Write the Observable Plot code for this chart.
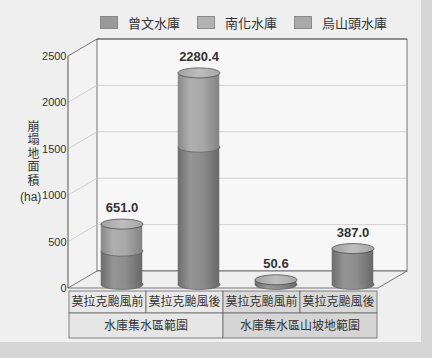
<!DOCTYPE html>
<html>
<head>
<meta charset="utf-8">
<script src="https://cdn.jsdelivr.net/npm/d3@7"></script>
<script src="https://cdn.jsdelivr.net/npm/@observablehq/plot@0.6"></script>
<style>
  html, body { margin: 0; padding: 0; }
  body { width: 432px; height: 358px; background: #d6d6d6; font-family: "Liberation Sans", Arial, "Noto Sans CJK TC", sans-serif; }
  #wrap { position: relative; width: 432px; height: 358px; overflow: hidden; }
  #panel { position: absolute; left: 0; top: 0; width: 421px; height: 342px; background: #efefef; }
  #legend { position: absolute; left: 100px; top: 14px; height: 16px; display: flex; align-items: center; font-family: "Noto Sans CJK TC", sans-serif; font-size: 13px; color: #333; }
  #legend .item { display: flex; align-items: center; margin-right: 17px; }
  #legend .sw { width: 18px; height: 13px; margin-right: 10px; border: 1px solid #8a8a8a; box-sizing: border-box; }
  #chart { position: absolute; left: 0; top: 32px; }
  #ylabel { position: absolute; left: 25px; top: 120px; writing-mode: vertical-rl; text-orientation: upright; font-family: "Noto Sans CJK TC", sans-serif; font-size: 12px; letter-spacing: 1.6px; line-height: 16px; color: #333; }
  #yunit { position: absolute; left: 20px; top: 190px; font-family: "Liberation Sans", Arial, sans-serif; font-size: 12px; line-height: 14px; color: #333; }
</style>
</head>
<body>
<div id="wrap">
  <div id="panel"></div>
  <div id="legend"></div>
  <div id="ylabel"></div>
  <div id="yunit"></div>
  <div id="chart"></div>
</div>
<script>
// ---- data ----
const categories = ["莫拉克颱風前", "莫拉克颱風後", "莫拉克颱風前", "莫拉克颱風後"];
const keys = ["A1", "A2", "B1", "B2"];
const groups = ["水庫集水區範圍", "水庫集水區山坡地範圍"];
const groupSpans = [2, 2];
const seriesNames = ["曾文水庫", "南化水庫", "烏山頭水庫"];
const zengwen = [360.0, 1480.0, 50.6, 387.0];
const nanhua = [291.0, 800.4, 0, 0];
const wushantou = [0, 0, 0, 0];
const totals = [651.0, 2280.4, 50.6, 387.0];
const yTicks = [0, 500, 1000, 1500, 2000, 2500];
const yTitle = "崩塌地面積";
const yUnit = "(ha)";

// ---- styles ----
const swatchColors = ["#9a9a9a", "#b3b3b3", "#a9a9a9"];
const bodyFills = ["url(#g0)", "url(#g1)", "url(#g2)"];
const DX = 29, DY = -17;      // 3D depth offset of the back wall
const CDX = 14, CDY = -4;     // cylinder offset (middle depth)
const RX = 21, RY = 5;

// legend + y title
const legend = document.getElementById("legend");
seriesNames.forEach((s, i) => {
  const it = document.createElement("div");
  it.className = "item";
  it.innerHTML = `<div class="sw" style="background:${swatchColors[i]}"></div><span>${s}</span>`;
  legend.appendChild(it);
});
document.getElementById("ylabel").textContent = yTitle;
document.getElementById("yunit").textContent = yUnit;

// stacked segments
const seriesVals = [zengwen, nanhua, wushantou];
const segments = seriesVals.map(() => []);
keys.forEach((k, i) => {
  let acc = 0;
  seriesVals.forEach((vals, s) => {
    const v = vals[i];
    if (v > 0) segments[s].push({key: k, start: acc, end: acc + v});
    acc += v;
  });
});
const tops = keys.map((k, i) => ({key: k, total: totals[i], label: totals[i].toFixed(1)}));

const ellipse = {
  draw(ctx) {
    const k = 0.5523;
    ctx.moveTo(RX, 0);
    ctx.bezierCurveTo(RX, RY * k, RX * k, RY, 0, RY);
    ctx.bezierCurveTo(-RX * k, RY, -RX, RY * k, -RX, 0);
    ctx.bezierCurveTo(-RX, -RY * k, -RX * k, -RY, 0, -RY);
    ctx.bezierCurveTo(RX * k, -RY, RX, -RY * k, RX, 0);
    ctx.closePath();
  }
};

function frameMark(index, scales, values, dims) {
  const {x, y} = scales;
  const x0 = dims.marginLeft, x1 = dims.width - dims.marginRight;
  const y0 = y(0), yT = y(yTicks[yTicks.length - 1]);
  const g = d3.create("svg:g");
  g.append("path").attr("d", `M${x0},${yT}L${x0 + DX},${yT + DY}L${x0 + DX},${y0 + DY}L${x0},${y0}Z`)
    .attr("fill", "#f3f3f3");
  g.append("rect").attr("x", x0 + DX).attr("y", yT + DY).attr("width", x1 - x0).attr("height", y0 - yT)
    .attr("fill", "#f7f7f7").attr("stroke", "#555").attr("stroke-width", 0.8);
  yTicks.forEach(t => {
    if (t === 0) return;
    const yy = y(t);
    g.append("path").attr("d", `M${x0},${yy}L${x0 + DX},${yy + DY}L${x1 + DX},${yy + DY}`)
      .attr("fill", "none").attr("stroke", t === yTicks[yTicks.length - 1] ? "#555" : "#c8c8c8").attr("stroke-width", 0.8);
  });
  g.append("path").attr("d", `M${x0},${y0}L${x1},${y0}L${x1 + DX},${y0 + DY}L${x0 + DX},${y0 + DY}Z`)
    .attr("fill", "#efefef").attr("stroke", "#555").attr("stroke-width", 0.8);
  g.append("line").attr("x1", x0).attr("x2", x0).attr("y1", y0).attr("y2", yT)
    .attr("stroke", "#444").attr("stroke-width", 0.9);
  return g.node();
}

function tableMark(index, scales, values, dims) {
  const {x, y} = scales;
  const bw = (x.bandwidth ? x.bandwidth() : (dims.width - dims.marginLeft - dims.marginRight) / keys.length);
  const y0 = y(0) + 3, h1 = 22, h2 = 25;
  const g = d3.create("svg:g").attr("font-family", "'Noto Sans CJK TC', sans-serif").attr("font-size", 12).attr("fill", "#333");
  keys.forEach((k, i) => {
    const xx = x(k);
    g.append("rect").attr("x", xx).attr("y", y0).attr("width", bw).attr("height", h1)
      .attr("fill", i < 2 ? "#e8e8e8" : "#d8d8d8").attr("stroke", "#666").attr("stroke-width", 0.8);
    g.append("text").attr("x", xx + bw / 2).attr("y", y0 + h1 / 2).attr("dy", "0.35em")
      .attr("text-anchor", "middle").attr("fill", "#333").text(categories[i]);
  });
  let col = 0;
  groups.forEach((gname, j) => {
    const xa = x(keys[col]);
    const xb = x(keys[col + groupSpans[j] - 1]) + bw;
    g.append("rect").attr("x", xa).attr("y", y0 + h1).attr("width", xb - xa).attr("height", h2)
      .attr("fill", j === 0 ? "#e6e6e6" : "#d5d5d5").attr("stroke", "#666").attr("stroke-width", 0.8);
    g.append("text").attr("x", (xa + xb) / 2).attr("y", y0 + h1 + h2 / 2).attr("dy", "0.35em")
      .attr("text-anchor", "middle").attr("fill", "#333").text(gname);
    col += groupSpans[j];
  });
  return g.node();
}

const bandInset = (310 / 4 - 2 * RX) / 2;
const marks = [frameMark];
segments.forEach((seg, s) => {
  marks.push(Plot.dot(seg, {x: "key", y: "start", symbol: ellipse, fill: bodyFills[s], stroke: "#555", strokeWidth: 0.6, dx: CDX, dy: CDY}));
  marks.push(Plot.barY(seg, {x: "key", y1: "start", y2: "end", fill: bodyFills[s], insetLeft: bandInset, insetRight: bandInset, dx: CDX, dy: CDY}));
});
marks.push(Plot.dot(tops, {x: "key", y: "total", symbol: ellipse, fill: "url(#gtop)", stroke: "#444", strokeWidth: 0.7, dx: CDX, dy: CDY}));
marks.push(Plot.text(tops, {x: "key", y: "total", text: "label", dx: CDX, dy: CDY - 16, fontWeight: "bold", fontSize: 13, fill: "#333"}));
marks.push(tableMark);

const chart = Plot.plot({
  width: 432,
  height: 326,
  marginLeft: 68,
  marginRight: 54,
  marginTop: 24,
  marginBottom: 70,
  style: {fontFamily: "'Liberation Sans', Arial, sans-serif", fontSize: "11px", background: "transparent", color: "#333", overflow: "visible"},
  x: {domain: keys, padding: 0, axis: null},
  y: {domain: [0, 2500], ticks: yTicks, tickSize: 0, tickPadding: 2, label: null, tickFormat: d => String(d)},
  marks
});

const defs = d3.select(chart).insert("defs", ":first-child");
function grad(id, stops) {
  const lg = defs.append("linearGradient").attr("id", id).attr("x1", 0).attr("x2", 1).attr("y1", 0).attr("y2", 0);
  stops.forEach(([o, c]) => lg.append("stop").attr("offset", o).attr("stop-color", c));
}
grad("g0", [[0, "#6c6c6c"], [0.3, "#959595"], [0.6, "#8c8c8c"], [1, "#686868"]]);
grad("g1", [[0, "#888888"], [0.3, "#b0b0b0"], [0.6, "#a8a8a8"], [1, "#828282"]]);
grad("g2", [[0, "#7a7a7a"], [0.3, "#a5a5a5"], [0.6, "#9a9a9a"], [1, "#727272"]]);
grad("gtop", [[0, "#a2a2a2"], [0.5, "#bebebe"], [1, "#a6a6a6"]]);

document.getElementById("chart").appendChild(chart);
</script>
</body>
</html>
